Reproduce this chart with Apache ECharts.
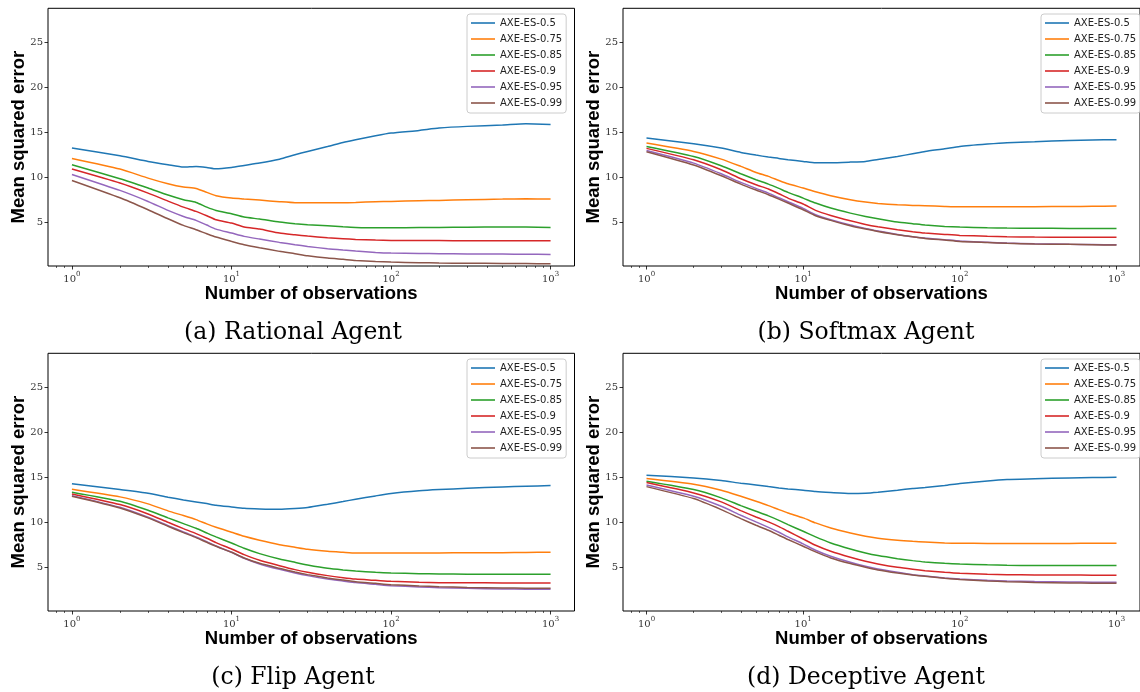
<!DOCTYPE html>
<html>
<head>
<meta charset="utf-8">
<title>AXE-ES mean squared error</title>
<script src="https://cdn.jsdelivr.net/npm/echarts@6/dist/echarts.min.js"></script>
<style>
  html, body { margin: 0; padding: 0; background: #fff; }
  #chart { width: 1140px; height: 692px; }
</style>
</head>
<body>
<div id="chart"></div>
<script>
// number of observations (x) shared by every panel
const nObs = [1, 2, 3, 4, 5, 6, 7, 8, 10, 12, 15, 20, 25, 30, 40, 50, 60, 80, 100, 150, 200, 300, 500, 700, 1000];
const seriesNames = ['AXE-ES-0.5', 'AXE-ES-0.75', 'AXE-ES-0.85', 'AXE-ES-0.9', 'AXE-ES-0.95', 'AXE-ES-0.99'];
const seriesColors = ['#1f77b4', '#ff7f0e', '#2ca02c', '#d62728', '#9467bd', '#8c564b'];
const captions = ['(a) Rational Agent', '(b) Softmax Agent', '(c) Flip Agent', '(d) Deceptive Agent'];
const majorTicks = [1, 10, 100, 1000];
const minorTicks = [0.8, 0.9, 2, 3, 4, 5, 6, 7, 8, 9, 20, 30, 40, 50, 60, 70, 80, 90, 200, 300, 400, 500, 600, 700, 800, 900];
const yTicks = [5, 10, 15, 20, 25];

// (a) Rational Agent, one row per series
const rational = [
  [13.23, 12.38, 11.75, 11.38, 11.12, 11.19, 11.08, 10.93, 11.08, 11.3, 11.56, 12.0, 12.49, 12.86, 13.4, 13.86, 14.16, 14.6, 14.9, 15.2, 15.46, 15.65, 15.8, 15.94, 15.87],
  [12.08, 10.9, 9.89, 9.26, 8.89, 8.74, 8.3, 7.93, 7.66, 7.55, 7.44, 7.26, 7.15, 7.15, 7.15, 7.15, 7.18, 7.26, 7.29, 7.37, 7.4, 7.48, 7.55, 7.59, 7.55],
  [11.38, 9.82, 8.78, 8.0, 7.48, 7.18, 6.66, 6.29, 5.92, 5.55, 5.33, 4.99, 4.81, 4.7, 4.58, 4.47, 4.4, 4.36, 4.36, 4.38, 4.4, 4.42, 4.44, 4.44, 4.4],
  [10.9, 9.34, 8.22, 7.33, 6.66, 6.18, 5.7, 5.25, 4.88, 4.44, 4.21, 3.77, 3.58, 3.43, 3.25, 3.14, 3.06, 2.99, 2.95, 2.94, 2.93, 2.92, 2.92, 2.91, 2.91],
  [10.3, 8.52, 7.29, 6.29, 5.62, 5.18, 4.66, 4.21, 3.77, 3.4, 3.1, 2.73, 2.47, 2.28, 2.02, 1.87, 1.76, 1.61, 1.54, 1.5, 1.47, 1.45, 1.43, 1.41, 1.39],
  [9.63, 7.7, 6.37, 5.36, 4.62, 4.14, 3.69, 3.32, 2.84, 2.47, 2.13, 1.73, 1.47, 1.24, 0.98, 0.84, 0.72, 0.61, 0.54, 0.47, 0.43, 0.41, 0.39, 0.37, 0.35]
];
// (b) Softmax Agent
const softmax = [
  [14.35, 13.72, 13.23, 12.75, 12.45, 12.23, 12.08, 11.93, 11.75, 11.6, 11.6, 11.67, 11.75, 11.97, 12.3, 12.6, 12.86, 13.16, 13.42, 13.68, 13.83, 13.94, 14.09, 14.14, 14.16],
  [13.79, 12.86, 12.0, 11.19, 10.52, 10.08, 9.63, 9.26, 8.78, 8.37, 7.93, 7.48, 7.22, 7.07, 6.92, 6.85, 6.81, 6.74, 6.7, 6.7, 6.7, 6.71, 6.73, 6.75, 6.77],
  [13.42, 12.3, 11.27, 10.37, 9.71, 9.22, 8.74, 8.3, 7.66, 7.11, 6.55, 5.99, 5.62, 5.36, 4.99, 4.81, 4.66, 4.51, 4.44, 4.36, 4.32, 4.3, 4.29, 4.29, 4.29],
  [13.2, 11.93, 10.82, 9.82, 9.15, 8.67, 8.15, 7.66, 7.0, 6.29, 5.73, 5.14, 4.73, 4.47, 4.14, 3.92, 3.77, 3.62, 3.51, 3.41, 3.36, 3.32, 3.29, 3.29, 3.29],
  [12.97, 11.56, 10.37, 9.41, 8.74, 8.22, 7.7, 7.26, 6.51, 5.81, 5.25, 4.66, 4.29, 3.99, 3.62, 3.36, 3.21, 3.03, 2.88, 2.74, 2.65, 2.57, 2.51, 2.49, 2.47],
  [12.82, 11.34, 10.15, 9.22, 8.56, 8.04, 7.55, 7.11, 6.37, 5.7, 5.18, 4.58, 4.21, 3.95, 3.58, 3.36, 3.17, 2.99, 2.84, 2.71, 2.62, 2.55, 2.51, 2.47, 2.43]
];
// (c) Flip Agent
const flip = [
  [14.26, 13.62, 13.22, 12.77, 12.47, 12.25, 12.06, 11.88, 11.69, 11.54, 11.47, 11.43, 11.51, 11.62, 11.99, 12.29, 12.55, 12.92, 13.18, 13.48, 13.62, 13.77, 13.92, 14.0, 14.07],
  [13.66, 12.81, 12.03, 11.25, 10.73, 10.28, 9.8, 9.42, 8.87, 8.42, 7.98, 7.49, 7.2, 6.97, 6.75, 6.64, 6.56, 6.56, 6.56, 6.56, 6.57, 6.58, 6.6, 6.62, 6.64],
  [13.33, 12.32, 11.32, 10.47, 9.83, 9.31, 8.79, 8.35, 7.68, 7.08, 6.49, 5.89, 5.52, 5.23, 4.85, 4.67, 4.56, 4.41, 4.33, 4.26, 4.22, 4.2, 4.19, 4.18, 4.18],
  [13.14, 11.95, 10.91, 9.98, 9.28, 8.72, 8.2, 7.72, 7.01, 6.38, 5.75, 5.15, 4.71, 4.41, 4.04, 3.81, 3.66, 3.52, 3.4, 3.3, 3.26, 3.24, 3.23, 3.22, 3.22],
  [12.95, 11.65, 10.54, 9.61, 8.9, 8.35, 7.83, 7.34, 6.64, 5.97, 5.34, 4.74, 4.33, 4.04, 3.66, 3.44, 3.26, 3.07, 2.92, 2.78, 2.7, 2.62, 2.55, 2.53, 2.51],
  [12.88, 11.58, 10.47, 9.54, 8.83, 8.27, 7.75, 7.31, 6.64, 6.01, 5.41, 4.85, 4.44, 4.15, 3.78, 3.55, 3.37, 3.18, 3.03, 2.89, 2.81, 2.73, 2.66, 2.64, 2.62]
];
// (d) Deceptive Agent
const deceptive = [
  [15.22, 14.92, 14.63, 14.33, 14.14, 13.96, 13.81, 13.7, 13.55, 13.4, 13.29, 13.18, 13.22, 13.33, 13.55, 13.74, 13.85, 14.07, 14.3, 14.59, 14.74, 14.82, 14.92, 14.96, 15.0],
  [14.85, 14.22, 13.55, 12.88, 12.32, 11.84, 11.39, 11.02, 10.47, 9.91, 9.35, 8.79, 8.42, 8.2, 7.98, 7.86, 7.79, 7.68, 7.64, 7.63, 7.63, 7.63, 7.63, 7.64, 7.64],
  [14.55, 13.62, 12.7, 11.84, 11.21, 10.69, 10.2, 9.72, 8.98, 8.35, 7.68, 7.01, 6.56, 6.27, 5.93, 5.71, 5.56, 5.41, 5.33, 5.24, 5.19, 5.17, 5.16, 5.16, 5.16],
  [14.4, 13.24, 12.25, 11.28, 10.57, 10.02, 9.5, 8.98, 8.12, 7.42, 6.75, 6.08, 5.63, 5.34, 4.96, 4.74, 4.59, 4.41, 4.3, 4.2, 4.15, 4.12, 4.11, 4.09, 4.07],
  [14.14, 12.88, 11.76, 10.76, 10.02, 9.42, 8.87, 8.35, 7.57, 6.86, 6.19, 5.52, 5.08, 4.78, 4.41, 4.15, 4.0, 3.78, 3.66, 3.52, 3.44, 3.38, 3.33, 3.31, 3.29],
  [13.95, 12.62, 11.39, 10.39, 9.65, 9.09, 8.54, 8.06, 7.31, 6.68, 6.01, 5.38, 4.97, 4.67, 4.33, 4.11, 3.96, 3.74, 3.6, 3.45, 3.37, 3.28, 3.22, 3.2, 3.18]
];
const panels = [rational, softmax, flip, deceptive];

// panel boxes in pixels
const gridLeft = [48, 623];
const gridTop = [8.3, 353.3];
const gridW = 526.5;
const gridH = 257.7;
const capX = [293, 866];
const capY = [333, 678];

const serif = 'DejaVu Serif';
const sans = 'Liberation Sans';

const chart = echarts.init(document.getElementById('chart'), null, { renderer: 'canvas' });

let grids = [], xAxes = [], yAxes = [], series = [], legends = [], graphics = [];
panels.forEach((panel, p) => {
  const col = p % 2, row = Math.floor(p / 2);
  grids.push({
    left: gridLeft[col], top: gridTop[row], width: gridW, height: gridH,
    show: true, borderColor: '#000', borderWidth: 1, backgroundColor: 'transparent'
  });
  // log axis that carries the data
  xAxes.push({
    type: 'log', logBase: 10, gridIndex: p,
    min: Math.pow(10, -0.15), max: Math.pow(10, 3.15),
    position: 'bottom',
    axisLine: { show: false, onZero: false }, axisTick: { show: false }, axisLabel: { show: false },
    splitLine: { show: false },
    name: 'Number of observations', nameLocation: 'middle', nameGap: 18, nameMoveOverlap: false,
    nameTextStyle: { fontFamily: sans, fontWeight: 'bold', fontSize: 18.5, color: '#000' }
  });
  // major ticks + 10^k labels
  xAxes.push({
    type: 'value', gridIndex: p, min: -0.15, max: 3.15, position: 'bottom',
    axisLine: { show: false, onZero: false }, splitLine: { show: false },
    axisTick: { show: true, length: 3.5, customValues: majorTicks.map(Math.log10), lineStyle: { color: '#000', width: 0.8 } },
    axisLabel: {
      customValues: majorTicks.map(Math.log10), margin: 5,
      formatter: v => '{b|10}{s|' + Math.round(v) + '}',
      rich: {
        b: { fontFamily: serif, fontSize: 10, color: '#333', verticalAlign: 'bottom', padding: [3, 0, 0, 0] },
        s: { fontFamily: serif, fontSize: 7, color: '#333', verticalAlign: 'top' }
      }
    }
  });
  // minor ticks
  xAxes.push({
    type: 'value', gridIndex: p, min: -0.15, max: 3.15, position: 'bottom',
    axisLine: { show: false, onZero: false }, splitLine: { show: false }, axisLabel: { show: false },
    axisTick: { show: true, length: 2, customValues: minorTicks.map(Math.log10), lineStyle: { color: '#000', width: 0.6 } }
  });
  yAxes.push({
    type: 'value', gridIndex: p, min: 0.1, max: 28.8, position: 'left',
    axisLine: { show: false, onZero: false }, splitLine: { show: false },
    axisTick: { show: true, length: 3.5, customValues: yTicks, lineStyle: { color: '#000', width: 0.8 } },
    axisLabel: { customValues: yTicks, margin: 5, fontFamily: serif, fontSize: 10, color: '#333' },
    name: 'Mean squared error', nameLocation: 'middle', nameGap: 20, nameRotate: 90, nameMoveOverlap: false,
    nameTextStyle: { fontFamily: sans, fontWeight: 'bold', fontSize: 18.5, color: '#000' }
  });
  panel.forEach((vals, s) => {
    series.push({
      type: 'line', name: seriesNames[s], xAxisIndex: p * 3, yAxisIndex: p,
      data: nObs.map((n, i) => [n, vals[i]]),
      symbol: 'none', smooth: 0.2, color: seriesColors[s],
      lineStyle: { width: 1.5, color: seriesColors[s] }
    });
  });
  legends.push({
    orient: 'vertical', left: col ? 1041 : 467, top: row ? 359 : 14,
    data: seriesNames, icon: 'rect', itemWidth: 24, itemHeight: 1.6, itemGap: 2, itemTextGap: 9,
    padding: [2, 4, 3, 4], backgroundColor: 'rgba(255,255,255,0.8)',
    borderColor: '#cccccc', borderWidth: 1, borderRadius: 3,
    textStyle: { fontFamily: 'DejaVu Sans', fontSize: 10, lineHeight: 14, color: '#222' },
    selectedMode: false
  });
  graphics.push({
    type: 'text', x: capX[col], y: capY[row],
    style: { text: captions[p], font: '23.5px "DejaVu Serif"', fill: '#000', textAlign: 'center', textVerticalAlign: 'middle' }
  });
});

chart.setOption({
  animation: false,
  grid: grids,
  xAxis: xAxes,
  yAxis: yAxes,
  legend: legends,
  series: series,
  graphic: graphics
});
</script>
</body>
</html>
